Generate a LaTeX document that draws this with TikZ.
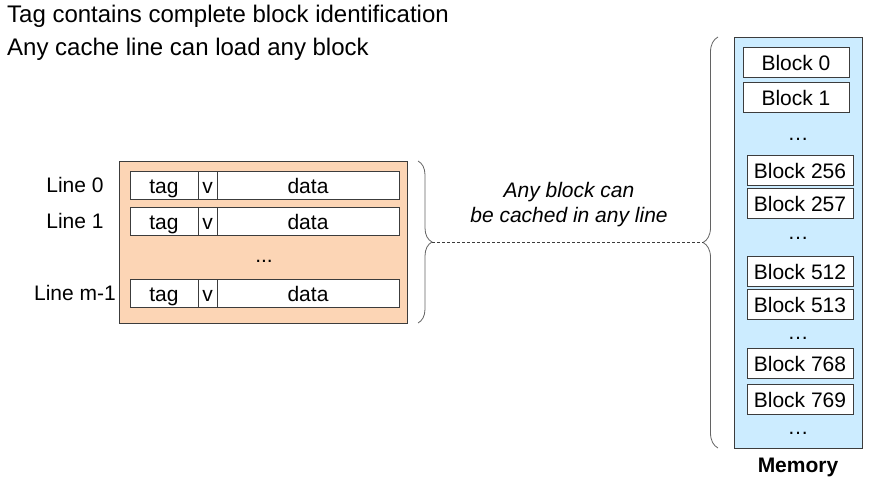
\documentclass[tikz,border=0pt]{standalone}
\usepackage{fontspec}
\setmainfont{Liberation Sans}
\usetikzlibrary{decorations.pathreplacing}
\definecolor{peach}{RGB}{252,213,181}
\definecolor{memblue}{RGB}{204,236,255}
\definecolor{edge}{RGB}{60,60,60}
\begin{document}
\begin{tikzpicture}[x=1pt,y=-1pt,
  txt/.style={font=\fontsize{21}{25}\selectfont, inner sep=0pt},
  head/.style={font=\fontsize{24}{28}\selectfont, inner sep=0pt},
  cell/.style={draw=edge, line width=0.8pt, fill=white, inner sep=0pt, text height=20pt, text depth=4pt, font=\fontsize{21}{25}\selectfont},
  blk/.style={cell, minimum width=106pt, minimum height=30pt},
  bracestyle/.style={draw=edge!80, line width=0.8pt, decorate, decoration={brace, amplitude=14pt}},
]
\useasboundingbox (0,0) rectangle (869,485);
% header
\node[head, anchor=west] (h1) at (7,16) {Tag contains complete block identification};
\node[head, anchor=west] (h2) at (7,49) {Any cache line can load any block};
% cache
\node[draw=edge, line width=0.8pt, fill=peach, minimum width=288pt, minimum height=162pt, inner sep=0pt] (cache) at (263,242) {};
\foreach \i/\y/\lab in {0/185/Line 0, 1/221/Line 1, 2/293/Line m-1}{
  \node[cell, minimum width=68pt, minimum height=28pt] (tag\i) at (164,\y) {tag};
  \node[cell, minimum width=19pt, minimum height=28pt] (v\i) at (207.5,\y) {v};
  \node[cell, minimum width=182pt, minimum height=28pt] (data\i) at (308,\y) {data};
  \node[txt] (line\i) at (75,\y) {\lab};
}
\node[txt] (cdots) at (264,261) {...};
% cache brace
\coordinate (cbt) at (418,161);
\coordinate (cbb) at (418,323);
\draw[bracestyle] (cbt) -- (cbb);
\coordinate (ctip) at (432,242);
% memory
\node[draw=edge, line width=0.8pt, fill=memblue, minimum width=128pt, minimum height=411pt, inner sep=0pt] (mem) at (798,242.5) {};
\node[blk] (b0) at (796,62) {Block 0};
\node[blk] (b1) at (796,97) {Block 1};
\node[txt] (d1) at (798,139) {\dots};
\node[blk] (b256) at (800,170.5) {Block 256};
\node[blk] (b257) at (800,203) {Block 257};
\node[txt] (d2) at (798,238) {\dots};
\node[blk] (b512) at (800,271) {Block 512};
\node[blk] (b513) at (800,304) {Block 513};
\node[txt] (d3) at (798,338) {\dots};
\node[blk] (b768) at (800,363.5) {Block 768};
\node[blk] (b769) at (800,399) {Block 769};
\node[txt] (d4) at (798,433) {\dots};
\node[txt, font=\fontsize{21}{25}\selectfont\bfseries] (memlab) at (798,467) {Memory};
% memory brace
\coordinate (mbt) at (718,37);
\coordinate (mbb) at (718,448);
\draw[bracestyle, decoration={brace, amplitude=15pt, mirror}] (mbt) -- (mbb);
\coordinate (mtip) at (703,242);
% connector
\draw[edge, line width=0.8pt, dash pattern=on 3pt off 2pt] (ctip) -- (mtip);
\node[txt, font=\fontsize{21}{25}\selectfont\itshape, align=center] (note) at (569,205) {Any block can\\be cached in any line};
\end{tikzpicture}
\end{document}
